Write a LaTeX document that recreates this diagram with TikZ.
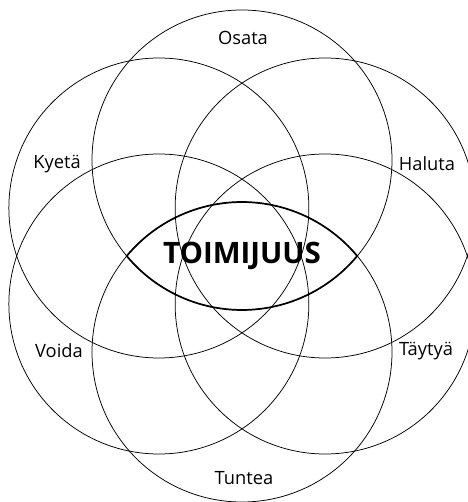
\documentclass[tikz,border=0pt]{standalone}
\usepackage{fontspec}
\setmainfont{Open Sans}
\usepackage{tikz}
\usetikzlibrary{positioning}

\begin{document}
\begin{tikzpicture}[x=1pt, y=1pt,
    ring/.style={draw, line width=0.75pt},
    lens/.style={draw, line width=1.7pt},
    word/.style={font=\fontsize{18.3}{22}\selectfont}]
    \useasboundingbox (-242,-246) rectangle (225,256);
    % centres of the six rings
    \coordinate (O) at (0,0);
    \coordinate (osata) at (90:96);
    \coordinate (haluta) at (30:96);
    \coordinate (kyeta) at (150:96);
    \coordinate (voida) at (210:96);
    \coordinate (taytya) at (330:96);
    \coordinate (tuntea) at (270:96);
    \draw[ring] (osata) circle[radius=150];
    \draw[ring] (haluta) circle[radius=150];
    \draw[ring] (kyeta) circle[radius=150];
    \draw[ring] (voida) circle[radius=150];
    \draw[ring] (taytya) circle[radius=150];
    \draw[ring] (tuntea) circle[radius=150];
    % common part of the top and bottom rings
    \draw[lens] (-115.3,0) arc[start angle=140.2, end angle=39.8, radius=150]
        arc[start angle=-39.8, end angle=-140.2, radius=150] -- cycle;
    \node[font=\fontsize{29.5}{36}\selectfont\bfseries] (toimijuus) at (O) {TOIMIJUUS};
    \node[word] (l1) at (1,218) {Osata};
    \node[word] (l2) at (-185,92) {Kyetä};
    \node[word] (l3) at (185,92) {Haluta};
    \node[word] (l4) at (-183,-95) {Voida};
    \node[word] (l5) at (184,-95) {Täytyä};
    \node[word] (l6) at (2,-222) {Tuntea};
\end{tikzpicture}
\end{document}
